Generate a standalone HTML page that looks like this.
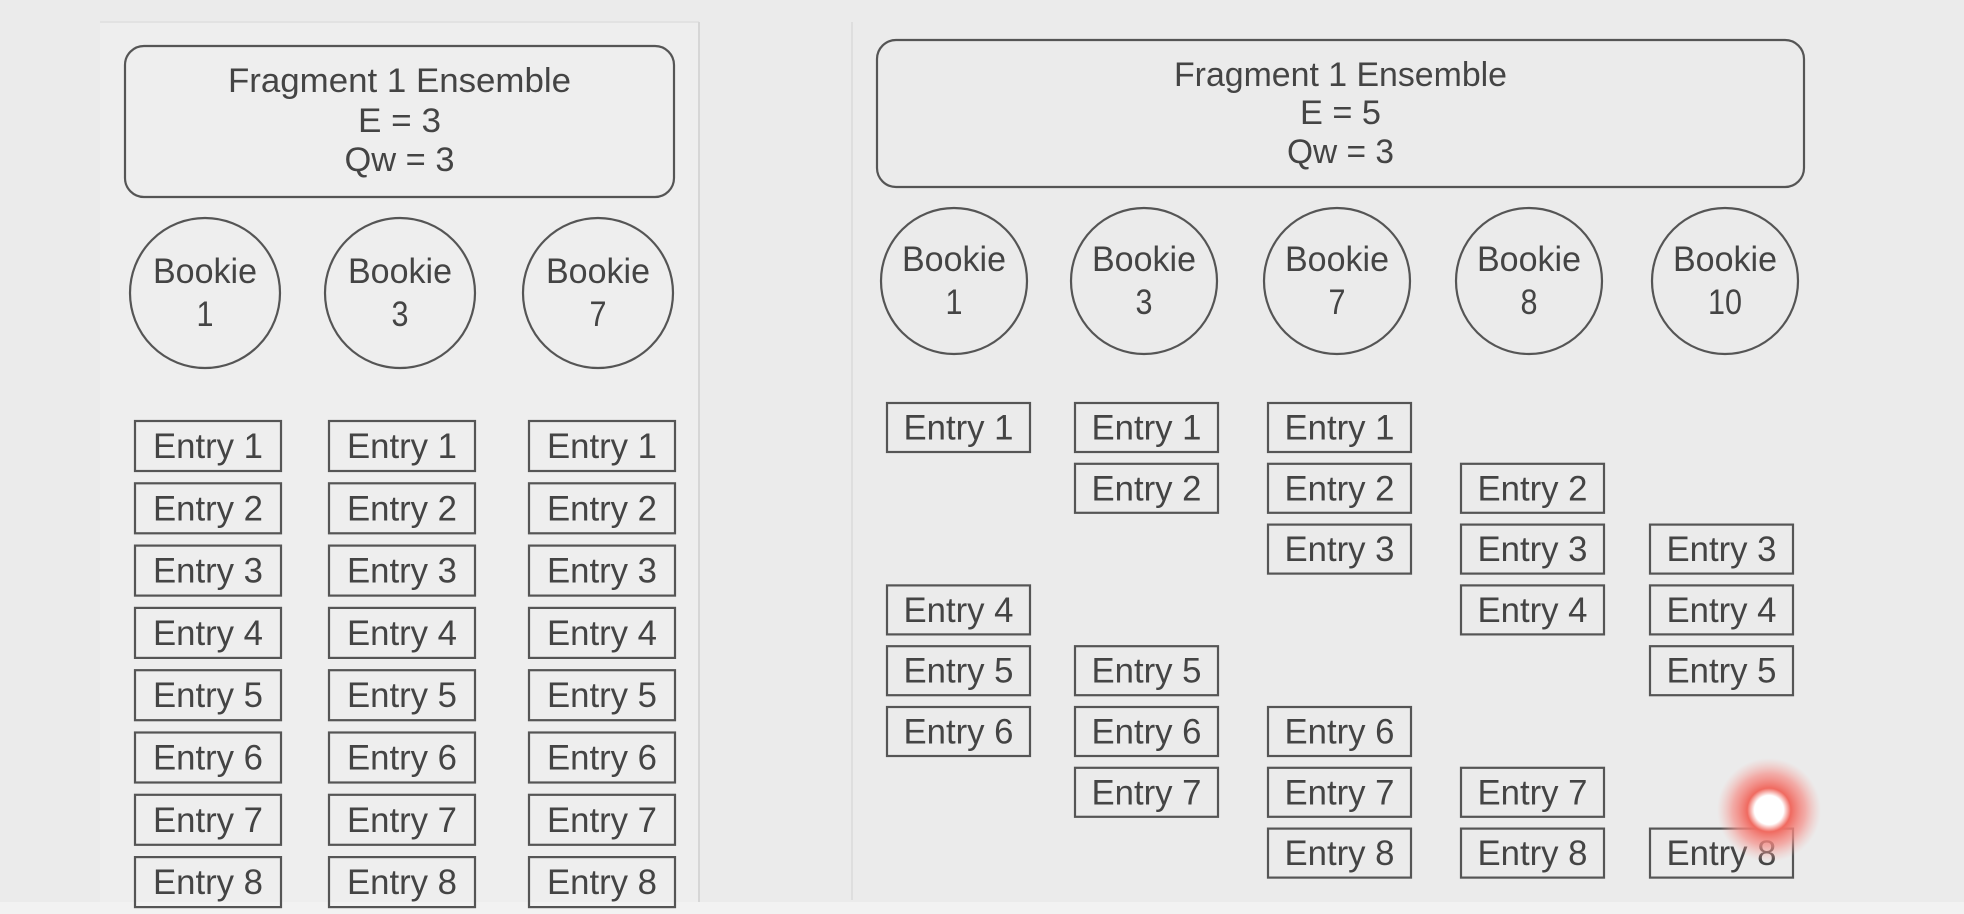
<!DOCTYPE html>
<html><head><meta charset="utf-8"><style>
html,body{margin:0;padding:0;background:#ebebeb;width:1964px;height:914px;overflow:hidden}
svg{display:block}
text{font-family:"Liberation Sans",Arial,sans-serif;fill:#444;text-anchor:middle}
</style></head><body>
<svg id="s" width="1964" height="914" viewBox="0 0 1964 914" xmlns="http://www.w3.org/2000/svg">
<defs>
<radialGradient id="cur" cx="50%" cy="50%" r="50%">
<stop offset="0" stop-color="#fff"/><stop offset="0.28" stop-color="#fff"/><stop offset="0.42" stop-color="#f06a60"/><stop offset="0.7" stop-color="#f5908a" stop-opacity="0.7"/><stop offset="1" stop-color="#f5b0aa" stop-opacity="0"/>
</radialGradient>
</defs>
<rect x="100" y="22" width="599" height="892" fill="#eeeeee"/>
<line x1="100" y1="22" x2="699" y2="22" stroke="#e2e2e2" stroke-width="2"/>
<line x1="699" y1="22" x2="699" y2="914" stroke="#d6d6d6" stroke-width="2"/>
<line x1="852" y1="22" x2="852" y2="900" stroke="#dedede" stroke-width="2"/>
<rect x="0" y="902" width="1964" height="12" fill="#f2f2f2"/>
<g id="g"></g>
<circle cx="1769" cy="810" r="52" fill="url(#cur)"/>
</svg>
<script>
const NS='http://www.w3.org/2000/svg';
const g=document.getElementById('g');
function el(t,a,txt){const e=document.createElementNS(NS,t);for(const k in a)e.setAttribute(k,a[k]);if(txt!==undefined)e.textContent=txt;g.appendChild(e);return e;}
const panels=[
 {box:[125,46,549,151],lines:[81,121,160],title:['Fragment 1 Ensemble','E = 3','Qw = 3'],tl:[343,83,110],
  cx:[205,400,598],cy:293,r:75,bk:['1','3','7'],
  ex:[135,329,529],ew:146,ey0:421,es:62.3,eh:50,
  mem:[[1,2,3,4,5,6,7,8],[1,2,3,4,5,6,7,8],[1,2,3,4,5,6,7,8]]},
 {box:[877,40,927,147],lines:[75,113,152],title:['Fragment 1 Ensemble','E = 5','Qw = 3'],tl:[333,81,107],
  cx:[954,1144,1337,1529,1725],cy:281,r:73,bk:['1','3','7','8','10'],
  ex:[887,1075,1268,1461,1650],ew:143,ey0:403,es:60.8,eh:49,
  mem:[[1,4,5,6],[1,2,5,6,7],[1,2,3,6,7,8],[2,3,4,7,8],[3,4,5,8]]}
];
panels.forEach((p,pi)=>{
 let e=el('rect',{x:p.box[0],y:p.box[1],width:p.box[2],height:p.box[3],rx:19,fill:'none',stroke:'#555','stroke-width':2.2});
 
 
 p.title.forEach((t,i)=>{const x=el('text',{x:p.box[0]+p.box[2]/2,y:p.lines[i]+11,'font-size':34,textLength:p.tl[i],lengthAdjust:'spacingAndGlyphs'},t);
  
  });
 p.cx.forEach((cx,i)=>{
  const c=el('circle',{cx:cx,cy:p.cy,r:p.r,fill:'none',stroke:'#555','stroke-width':2.2});
  
  
  const t1=el('text',{x:cx,y:p.cy-10,'font-size':35,textLength:104,lengthAdjust:'spacingAndGlyphs'},'Bookie');
  
  
  const t2=el('text',{x:cx,y:p.cy+33,'font-size':35,textLength:p.bk[i].length*17,lengthAdjust:'spacingAndGlyphs'},p.bk[i]);
  
  
  p.mem[i].forEach(n=>{
   const y=p.ey0+(n-1)*p.es;
   const r=el('rect',{x:p.ex[i],y:y,width:p.ew,height:p.eh,fill:'none',stroke:'#555','stroke-width':2.2});
   
   
   const t=el('text',{x:p.ex[i]+p.ew/2,y:y+p.eh/2+12,'font-size':35,textLength:110,lengthAdjust:'spacingAndGlyphs'},'Entry '+n);
   
   
  });
 });
});
</script>
</body></html>
